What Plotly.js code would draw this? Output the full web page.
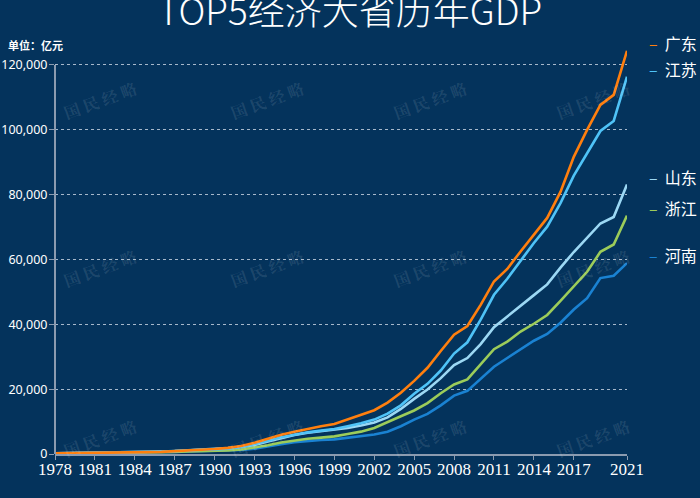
<!DOCTYPE html>
<html>
<head>
<meta charset="utf-8">
<script src="https://cdn.plot.ly/plotly-3.0.1.min.js"></script>
<style>
html,body{margin:0;padding:0;background:#04335c;}
#chart{width:700px;height:498px;}
</style>
</head>
<body>
<div id="chart"></div>
<script>
// ---- data (亿元) ----
var years = [];
for (var yr = 1978; yr <= 2021; yr++) years.push(yr);

var provinces = ["广东", "江苏", "山东", "浙江", "河南"];

var guangdong = [186,209,250,290,340,369,459,577,668,847,1155,1381,1559,1893,2448,3469,4619,5933,6835,7775,8531,9251,10741,12039,13502,15845,18865,22557,26588,31777,36797,39483,46013,53210,57068,62475,67810,72813,80855,91649,99945,107671,110761,124370];
var jiangsu   = [249,299,320,350,390,438,519,652,745,922,1209,1322,1417,1601,2136,2998,4057,5155,6004,6680,7200,7698,8554,9457,10607,12443,15004,18599,21645,25741,30982,34457,41425,49110,54058,59753,65088,70116,77388,85870,92595,99632,102719,116364];
var shandong  = [225,252,292,347,395,460,582,680,742,892,1118,1294,1511,1811,2197,2770,3845,4953,5884,6537,7021,7494,8000,8800,9700,11300,13900,17000,19900,23400,27400,29600,33900,39100,42500,45800,49000,52300,57500,62300,66600,71100,73100,83100];
var zhejiang  = [124,158,180,205,234,257,323,429,502,607,770,849,905,1089,1376,1926,2689,3558,4189,4686,5053,5444,6141,6898,8004,9705,11649,13418,15718,18754,21463,22990,27722,32319,34665,37757,40173,42886,47251,51768,56197,62352,64613,73516];
var henan     = [163,190,229,250,263,328,370,452,503,610,749,851,935,1046,1280,1660,2217,2988,3635,4041,4308,4518,5053,5533,6035,6868,8554,10587,12363,15012,18019,19480,23092,26931,29599,32191,34938,37002,40472,44553,48056,54259,54997,58887];

var xTickVals = [1978,1981,1984,1987,1990,1993,1996,1999,2002,2005,2008,2011,2014,2017,2021];
var yTickVals = [0,20000,40000,60000,80000,100000,120000];

// ---- styles ----
var seriesData = [guangdong, jiangsu, shandong, zhejiang, henan];
var colors = ["#ff7f0e", "#4fc3f7", "#9cd8f4", "#9ccc5a", "#1a82d2"];

var traces = [];
for (var i = seriesData.length - 1; i >= 0; i--) {
  traces.push({
    x: years, y: seriesData[i], name: provinces[i],
    type: "scatter", mode: "lines",
    line: {color: colors[i], width: 2.6},
    hoverinfo: "skip"
  });
}

var annotations = [];
// end labels
for (var j = 0; j < provinces.length; j++) {
  var arr = seriesData[j];
  annotations.push({
    x: years[years.length - 1], y: arr[arr.length - 1],
    xref: "x", yref: "y",
    xanchor: "left", yanchor: "middle",
    xshift: 20, yshift: 8,
    showarrow: false,
    text: "<span style='color:" + colors[j] + "'>–</span>  " + provinces[j],
    font: {family: "Noto Sans CJK SC", size: 16, color: "#ffffff"}
  });
}
// unit label
annotations.push({
  xref: "paper", yref: "paper", x: -0.085, y: 1.0,
  xanchor: "left", yanchor: "middle", yshift: -6,
  showarrow: false, text: "<b>单位：亿元</b>",
  font: {family: "Noto Sans CJK SC", size: 11, color: "#ffffff"}
});
// watermarks
var wmX = [100, 267, 430, 593];
var wmY = [100, 268, 438];
var L = 55, R = 627, T = 39, B = 454;
wmX.forEach(function (px) {
  wmY.forEach(function (py) {
    annotations.push({
      xref: "paper", yref: "paper",
      x: (px - L) / (R - L), y: (B - py) / (B - T),
      xanchor: "center", yanchor: "middle",
      showarrow: false, textangle: -20,
      text: "<b>国 民 经 略</b>",
      font: {family: "Noto Serif CJK SC, Noto Sans CJK SC", size: 16, color: "rgba(255,255,255,0.11)"}
    });
  });
});

var layout = {
  width: 700, height: 498,
  paper_bgcolor: "#04335c", plot_bgcolor: "#04335c",
  margin: {l: L, r: 700 - R, t: T, b: 498 - B, pad: 0},
  showlegend: false,
  title: {
    text: "TOP5经济大省历年GDP",
    font: {family: "Noto Sans CJK SC", size: 37, color: "#ffffff", weight: 300},
    x: 0.5, xanchor: "center", xref: "container",
    y: 0.975, yanchor: "middle", yref: "container"
  },
  xaxis: {
    range: [1978, 2021],
    tickmode: "array", tickvals: xTickVals, ticktext: xTickVals.map(String),
    showgrid: false, zeroline: false,
    showline: true, linecolor: "#8b9bb0", linewidth: 2,
    ticks: "outside", ticklen: 4, tickcolor: "#8b9bb0", tickwidth: 1,
    ticklabelstandoff: -5,
    tickfont: {family: "Liberation Sans Narrow", size: 17, color: "#ffffff"},
    fixedrange: true
  },
  yaxis: {
    range: [0, 128000],
    tickmode: "array", tickvals: yTickVals,
    tickformat: ",d",
    showgrid: true, gridcolor: "rgba(220,230,240,0.75)", griddash: "dot", gridwidth: 1,
    zeroline: false, showline: false,
    ticks: "outside", ticklen: 5, tickcolor: "#8b9bb0", tickwidth: 1,
    ticklabelstandoff: -1,
    tickfont: {family: "Noto Sans", size: 12.5, color: "#ffffff"},
    fixedrange: true
  },
  shapes: [{
    type: "line", xref: "paper", yref: "y",
    x0: 0, x1: 0, y0: 0, y1: 120000,
    line: {color: "#8b9bb0", width: 2}
  }],
  annotations: annotations
};

Plotly.newPlot("chart", traces, layout, {displayModeBar: false, staticPlot: true});
</script>
</body>
</html>
